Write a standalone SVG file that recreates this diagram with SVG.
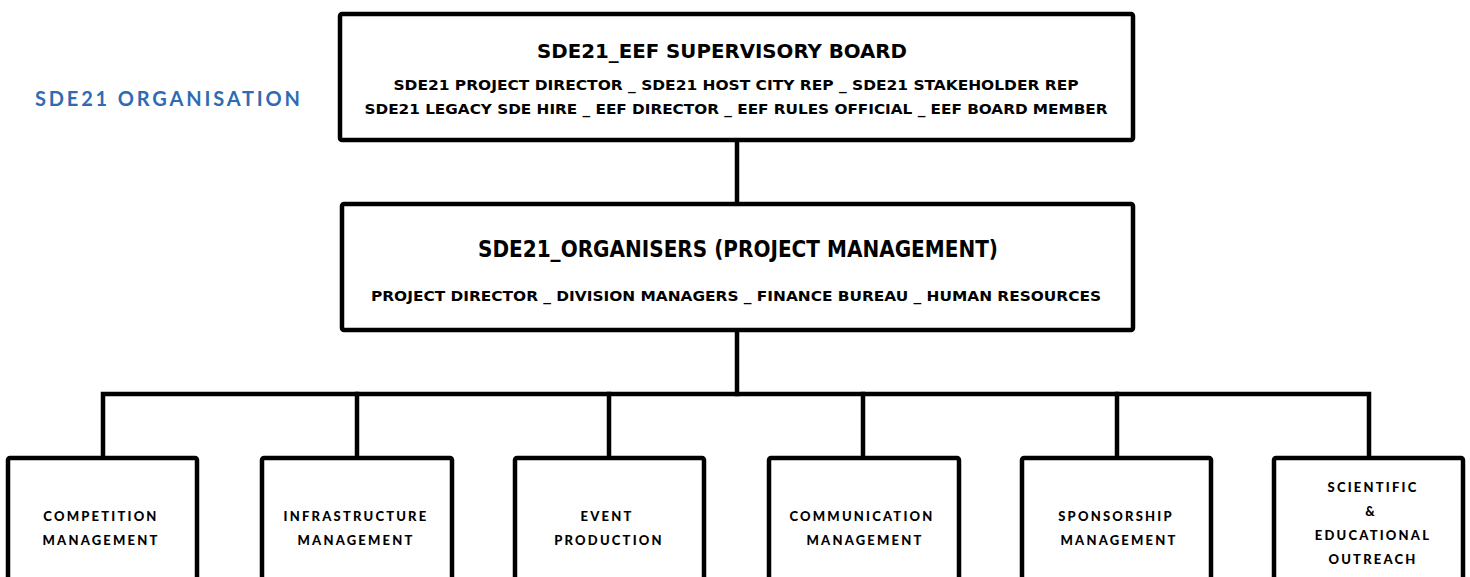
<svg xmlns="http://www.w3.org/2000/svg" width="1470" height="577" viewBox="0 0 1470 577">
<style>
.box{fill:#fff;stroke:#000;stroke-width:4.5;stroke-linejoin:round}
.conn{fill:none;stroke:#000;stroke-width:4.5;stroke-linecap:square}
.head{font-family:"DejaVu Sans Condensed","DejaVu Sans","Liberation Sans Narrow",sans-serif;font-stretch:condensed;font-weight:700;fill:#000;text-anchor:middle}
.div{font-family:Lato,"Liberation Sans",sans-serif;font-weight:900;font-size:13px;letter-spacing:2.2px;fill:#000;text-anchor:middle}
.title{font-family:Lato,"Liberation Sans",sans-serif;font-weight:700;font-size:20px;fill:#2f6bb3}
</style>
<g id="connectors">
<line class="conn" x1="737" y1="140" x2="737" y2="204"/>
<line class="conn" x1="737" y1="330" x2="737" y2="394"/>
<polyline class="conn" points="103,458 103,394 1369,394 1369,458"/>
<line class="conn" x1="357" y1="394" x2="357" y2="458"/>
<line class="conn" x1="609" y1="394" x2="609" y2="458"/>
<line class="conn" x1="863" y1="394" x2="863" y2="458"/>
<line class="conn" x1="1117" y1="394" x2="1117" y2="458"/>
</g>
<text id="page-title" class="title" x="35" y="106" textLength="265" lengthAdjust="spacing">SDE21 ORGANISATION</text>
<g id="supervisory-board">
<rect class="box" x="340" y="14" width="793" height="126" rx="2"/>
<text class="head" x="722" y="58" font-size="19.5" textLength="370" lengthAdjust="spacingAndGlyphs">SDE21_EEF SUPERVISORY BOARD</text>
<text class="head" x="736" y="90" font-size="14" textLength="685" lengthAdjust="spacingAndGlyphs">SDE21 PROJECT DIRECTOR _ SDE21 HOST CITY REP _ SDE21 STAKEHOLDER REP</text>
<text class="head" x="736" y="114" font-size="14" textLength="743" lengthAdjust="spacingAndGlyphs">SDE21 LEGACY SDE HIRE _ EEF DIRECTOR _ EEF RULES OFFICIAL _ EEF BOARD MEMBER</text>
</g>
<g id="organisers">
<rect class="box" x="342" y="204" width="791" height="126" rx="2"/>
<text class="head" x="738" y="257" font-size="22.5" textLength="520" lengthAdjust="spacingAndGlyphs">SDE21_ORGANISERS (PROJECT MANAGEMENT)</text>
<text class="head" x="736" y="301" font-size="14.5" textLength="730" lengthAdjust="spacingAndGlyphs">PROJECT DIRECTOR _ DIVISION MANAGERS _ FINANCE BUREAU _ HUMAN RESOURCES</text>
</g>
<g id="competition">
<rect class="box" x="8" y="458" width="189" height="160" rx="2"/>
<text class="div" x="101" y="521">COMPETITION</text>
<text class="div" x="101" y="545">MANAGEMENT</text>
</g>
<g id="infrastructure">
<rect class="box" x="262" y="458" width="190" height="160" rx="2"/>
<text class="div" x="356" y="521">INFRASTRUCTURE</text>
<text class="div" x="356" y="545">MANAGEMENT</text>
</g>
<g id="event">
<rect class="box" x="515" y="458" width="189" height="160" rx="2"/>
<text class="div" x="607" y="521">EVENT</text>
<text class="div" x="609" y="545">PRODUCTION</text>
</g>
<g id="communication">
<rect class="box" x="769" y="458" width="190" height="160" rx="2"/>
<text class="div" x="862" y="521">COMMUNICATION</text>
<text class="div" x="865" y="545">MANAGEMENT</text>
</g>
<g id="sponsorship">
<rect class="box" x="1022" y="458" width="189" height="160" rx="2"/>
<text class="div" x="1116" y="521">SPONSORSHIP</text>
<text class="div" x="1119" y="545">MANAGEMENT</text>
</g>
<g id="scientific">
<rect class="box" x="1274" y="458" width="189" height="160" rx="2"/>
<text class="div" x="1373" y="492">SCIENTIFIC</text>
<text class="div" x="1371" y="516">&amp;</text>
<text class="div" x="1373" y="540">EDUCATIONAL</text>
<text class="div" x="1373" y="564">OUTREACH</text>
</g>
</svg>
